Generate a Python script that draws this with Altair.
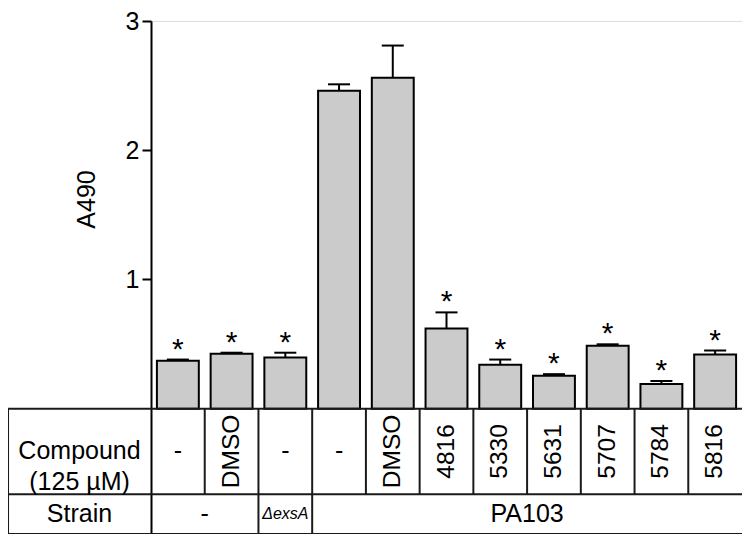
import altair as alt
import pandas as pd

# ---- data ----
compounds = ["-", "DMSO", "-", "-", "DMSO", "4816", "5330", "5631", "5707", "5784", "5816"]
a490 = [0.37, 0.425, 0.395, 2.46, 2.56, 0.62, 0.34, 0.255, 0.486, 0.19, 0.42]
sem = [0.01, 0.008, 0.038, 0.05, 0.25, 0.125, 0.04, 0.012, 0.012, 0.024, 0.03]
significant = [True, True, True, False, False, True, True, True, True, True, True]
strain_labels = ["-", "\u0394exsA", "PA103"]
strain_spans = [2, 1, 8]
y_ticks = [1, 2, 3]
row_labels = ["Compound\n(125 \u00b5M)", "Strain"]

FONT = "Liberation Sans"
N = len(compounds)
Y_MIN = -0.97      # bottom of the table (in A490 units, below zero)
ROW_SEP = -0.662   # line between the two table rows
X_LEFT = -2.661    # left border of the row-label column (in bar-index units)

df = pd.DataFrame({
    "idx": list(range(N)),
    "compound": compounds,
    "a490": a490,
    "sem": sem,
    "sig": significant,
})
df["x0"] = df["idx"] + 0.11
df["x1"] = df["idx"] + 0.89
df["xc"] = df["idx"] + 0.5
df["cap0"] = df["xc"] - 0.205
df["cap1"] = df["xc"] + 0.205
df["top"] = df["a490"] + df["sem"]
df["ycell"] = ROW_SEP / 2

x_scale = alt.Scale(domain=[0, N], nice=False, zero=False)
y_scale = alt.Scale(domain=[Y_MIN, 3], nice=False, zero=False)

base = alt.Chart(df)

bars = base.mark_bar(fill="#cbcbcb", stroke="black", strokeWidth=2).encode(
    x=alt.X("x0:Q", scale=x_scale, axis=None),
    x2="x1:Q",
    y=alt.Y(
        "a490:Q",
        scale=y_scale,
        axis=alt.Axis(
            values=y_ticks,
            format="d",
            title="A490",
            titleX=-65,
            titleY=178,
            titleAngle=270,
            titleAlign="center",
            titleBaseline="middle",
            titleFont=FONT,
            titleFontSize=25,
            titleFontWeight="normal",
            titleColor="black",
            labelFont=FONT,
            labelFontSize=25,
            labelColor="black",
            labelPadding=3,
            grid=False,
            domainColor="black",
            domainWidth=2,
            tickColor="black",
            tickWidth=2,
            tickSize=9,
        ),
    ),
    y2=alt.datum(0),
)

err = base.mark_rule(color="black", strokeWidth=2).encode(
    x="xc:Q", y="a490:Q", y2="top:Q"
)
caps = base.mark_rule(color="black", strokeWidth=2).encode(
    x="cap0:Q", x2="cap1:Q", y="top:Q"
)
stars = base.transform_filter("datum.sig").mark_text(
    text="*", font=FONT, fontSize=30, baseline="alphabetic", dy=-1, color="black"
).encode(x="xc:Q", y="top:Q")

# ---- table below the bars ----
lines = [
    (X_LEFT, N, 0, 0),
    (X_LEFT, N, ROW_SEP, ROW_SEP),
    (X_LEFT, N, Y_MIN, Y_MIN),
    (X_LEFT, X_LEFT, 0, Y_MIN),
]
for b in range(1, N):
    lines.append((b, b, 0, ROW_SEP))
acc = 0
strain_rows = []
for lab, span in zip(strain_labels, strain_spans):
    strain_rows.append({"label": lab, "xc": acc + span / 2,
                        "italic": lab != "-" and lab != "PA103"})
    acc += span
    if acc < N:
        lines.append((acc, acc, ROW_SEP, Y_MIN))
lines_df = pd.DataFrame(lines, columns=["lx", "lx2", "ly", "ly2"])

table_lines = alt.Chart(lines_df).mark_rule(color="#1a1a1a", strokeWidth=2).encode(
    x="lx:Q", x2="lx2:Q", y="ly:Q", y2="ly2:Q"
)

rot_labels = base.transform_filter("datum.compound != '-'").mark_text(
    font=FONT, fontSize=24.5, angle=270, align="center", baseline="middle", color="black"
).encode(x="xc:Q", y="ycell:Q", text="compound:N")
dash_labels = base.transform_filter("datum.compound == '-'").mark_text(
    font=FONT, fontSize=25, align="center", baseline="middle", color="black"
).encode(x="xc:Q", y="ycell:Q", text="compound:N")

strain_df = pd.DataFrame(strain_rows)
strain_df["y"] = (ROW_SEP + Y_MIN) / 2
strain_plain = alt.Chart(strain_df).transform_filter("!datum.italic").mark_text(
    font=FONT, fontSize=25, align="center", baseline="middle", color="black"
).encode(x="xc:Q", y="y:Q", text="label:N")
strain_italic = alt.Chart(strain_df).transform_filter("datum.italic").mark_text(
    font=FONT, fontSize=16, fontStyle="italic", align="center", baseline="middle", color="black"
).encode(x="xc:Q", y="y:Q", text="label:N")

row_df = pd.DataFrame({
    "label": row_labels,
    "x": [X_LEFT / 2, X_LEFT / 2],
    "y": [ROW_SEP / 2, (ROW_SEP + Y_MIN) / 2],
})
row_text = alt.Chart(row_df).mark_text(
    font=FONT, fontSize=25, align="center", baseline="middle", lineBreak="\n",
    lineHeight=31, color="black"
).encode(x="x:Q", y="y:Q", text="label:N")

chart = alt.layer(
    bars, err, caps, stars, table_lines, rot_labels, dash_labels,
    strain_plain, strain_italic, row_text
).properties(
    width=591,
    height=513,
    autosize=alt.AutoSizeParams(type="none"),
    padding={"left": 143, "top": 13, "right": 0, "bottom": 0},
).configure_view(
    stroke="black", strokeWidth=2
).configure(background="white")

chart.save("out.html", embed_options={"renderer": "svg", "actions": False})
